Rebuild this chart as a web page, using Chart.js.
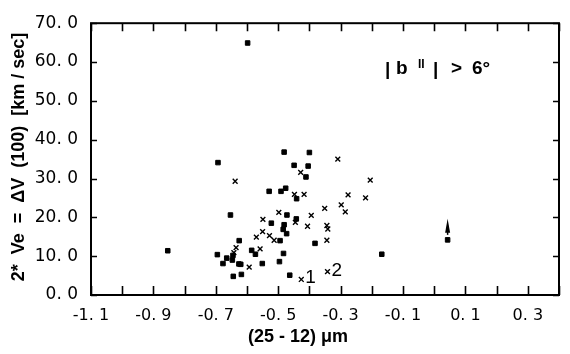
<!DOCTYPE html>
<html>
<head>
<meta charset="utf-8">
<script src="https://cdn.jsdelivr.net/npm/chart.js@4"></script>
<style>
  html, body { margin: 0; padding: 0; background: #fff; }
  #wrap { width: 570px; height: 354px; }
</style>
</head>
<body>
<div id="wrap"><canvas id="colourChart" width="570" height="354"></canvas></div>
<script>
// filled markers
const filledX = [-0.598, -0.854, -0.693, -0.481, -0.400, -0.449, -0.404, -0.411, -0.529, -0.491,
                 -0.476, -0.441, -0.653, -0.472, -0.442, -0.522, -0.481, -0.484, -0.473, -0.494,
                 -0.625, -0.382, -0.695, -0.585, -0.665, -0.677, -0.647, -0.626, -0.551, -0.483,
                 -0.496, -0.644, -0.618, -0.463, -0.168, -0.573, 0.043, -0.645, -0.620];
const filledY = [64.9, 11.4, 34.1, 36.8, 36.7, 33.4, 33.2, 30.4, 26.7, 26.7,
                 27.5, 24.8, 20.6, 20.6, 19.6, 18.5, 18.1, 16.9, 15.8, 14.0,
                 14.0, 13.3, 10.4, 11.5, 9.5, 8.1, 9.0, 8.0, 8.1, 10.7,
                 8.6, 4.8, 5.3, 5.1, 10.5, 10.5, 14.2, 10.2, 7.9];
// x markers
const crossX = [-0.309, -0.638, -0.428, -0.205, -0.276, -0.220, -0.448, -0.417, -0.298, -0.351,
                -0.285, -0.498, -0.394, -0.549, -0.445, -0.406, -0.344, -0.341, -0.550, -0.570,
                -0.528, -0.513, -0.344, -0.635, -0.558, -0.642, -0.593, -0.426, -0.342];
const crossY = [35.0, 29.3, 31.6, 29.6, 25.8, 25.0, 25.9, 25.9, 23.2, 22.3,
                21.4, 21.3, 20.5, 19.5, 18.7, 17.7, 17.9, 17.0, 16.3, 14.9,
                15.3, 14.1, 14.1, 12.2, 11.9, 10.9, 7.2, 4.0, 6.0];
// numbered points (index into cross arrays) and the arrowed one (index into filled)
const pointLabels = [{ idx: 27, text: '1' }, { idx: 28, text: '2' }];
const arrowIdx = 36;

const xMin = -1.1, xMax = 0.4, xStep = 0.1;
const yMin = 0, yMax = 70, yStep = 10;

function spaced(v) {
  return v.toFixed(1).replace('.', '. ');
}

const frame = {
  id: 'frame',
  afterDraw(chart) {
    const { ctx, chartArea: a, scales: { x, y } } = chart;
    ctx.save();
    ctx.strokeStyle = '#000';
    ctx.lineWidth = 2;
    ctx.strokeRect(a.left, a.top, a.right - a.left, a.bottom - a.top);
    ctx.lineWidth = 1.6;
    ctx.beginPath();
    x.ticks.forEach(t => {
      const px = Math.round(x.getPixelForValue(t.value)) + 0.5;
      ctx.moveTo(px, a.bottom); ctx.lineTo(px, a.bottom - 9);
      ctx.moveTo(px, a.top); ctx.lineTo(px, a.top + 8);
    });
    y.ticks.forEach(t => {
      const py = Math.round(y.getPixelForValue(t.value)) + 0.5;
      ctx.moveTo(a.left, py); ctx.lineTo(a.left + 6, py);
      ctx.moveTo(a.right, py); ctx.lineTo(a.right - 6, py);
    });
    ctx.stroke();

    // numbered labels
    ctx.fillStyle = '#000';
    ctx.font = '19px "Liberation Sans", Arial, sans-serif';
    ctx.textBaseline = 'alphabetic';
    pointLabels.forEach(p => {
      const px = x.getPixelForValue(crossX[p.idx]);
      const py = y.getPixelForValue(crossY[p.idx]);
      ctx.fillText(p.text, px + 4, py + 4);
    });

    // arrow above the off-scale point
    const ax = x.getPixelForValue(filledX[arrowIdx]);
    const ay = y.getPixelForValue(filledY[arrowIdx]);
    ctx.beginPath();
    ctx.moveTo(ax, ay - 21);
    ctx.lineTo(ax - 2.5, ay - 7);
    ctx.lineTo(ax + 2.5, ay - 7);
    ctx.closePath();
    ctx.fill();
    ctx.fillRect(ax - 0.75, ay - 9, 1.5, 4);

    // |b II| > 6°
    ctx.font = 'bold 19px "Liberation Sans", Arial, sans-serif';
    ctx.fillText('|', 385, 75);
    ctx.fillText('b', 396, 74);
    ctx.font = 'bold 12px "Liberation Sans", Arial, sans-serif';
    ctx.fillText('II', 418, 68);
    ctx.font = 'bold 19px "Liberation Sans", Arial, sans-serif';
    ctx.fillText('|', 433, 75);
    ctx.fillText('>', 451, 74);
    ctx.fillText('6°', 472, 74);

    // axis titles
    ctx.textAlign = 'center';
    ctx.textBaseline = 'middle';
    ctx.font = 'bold 18px "Liberation Sans", Arial, sans-serif';
    ctx.fillText('(25 - 12) μm', 298, 337);
    ctx.translate(19, 157);
    ctx.rotate(-Math.PI / 2);
    ctx.fillText('2*  Ve  =  ΔV  (100)  [km / sec]', 0, 0);
    ctx.restore();
  }
};

new Chart(document.getElementById('colourChart'), {
  type: 'scatter',
  data: {
    datasets: [{
      label: 'filled',
      data: filledX.map((v, i) => ({ x: v, y: filledY[i] })),
      pointStyle: 'rect',
      pointRadius: 3.2,
      backgroundColor: '#000',
      borderColor: '#000',
      borderWidth: 1
    }, {
      label: 'cross',
      data: crossX.map((v, i) => ({ x: v, y: crossY[i] })),
      pointStyle: 'crossRot',
      pointRadius: 3.4,
      borderColor: '#000',
      borderWidth: 1.4
    }]
  },
  options: {
    responsive: false,
    animation: false,
    layout: { padding: { left: 0, right: 10, top: 18, bottom: 0 } },
    plugins: { legend: { display: false }, tooltip: { enabled: false } },
    scales: {
      x: {
        type: 'linear',
        min: xMin, max: xMax,
        grid: { display: false, drawTicks: false },
        border: { display: false },
        afterFit: s => { s.height = 59; },
        ticks: {
          stepSize: xStep,
          padding: 11,
          color: '#000',
          maxRotation: 0,
          autoSkip: false,
          font: { family: '"DejaVu Sans", sans-serif', size: 16 },
          callback: (v, i) => i % 2 === 0 ? spaced(v) : ''
        }
      },
      y: {
        min: yMin, max: yMax,
        grid: { display: false, drawTicks: false },
        border: { display: false },
        afterFit: s => { s.width = 91; },
        ticks: {
          stepSize: yStep,
          padding: 13,
          color: '#000',
          font: { family: '"DejaVu Sans", sans-serif', size: 17 },
          callback: v => spaced(v)
        }
      }
    }
  },
  plugins: [frame]
});
</script>
</body>
</html>
